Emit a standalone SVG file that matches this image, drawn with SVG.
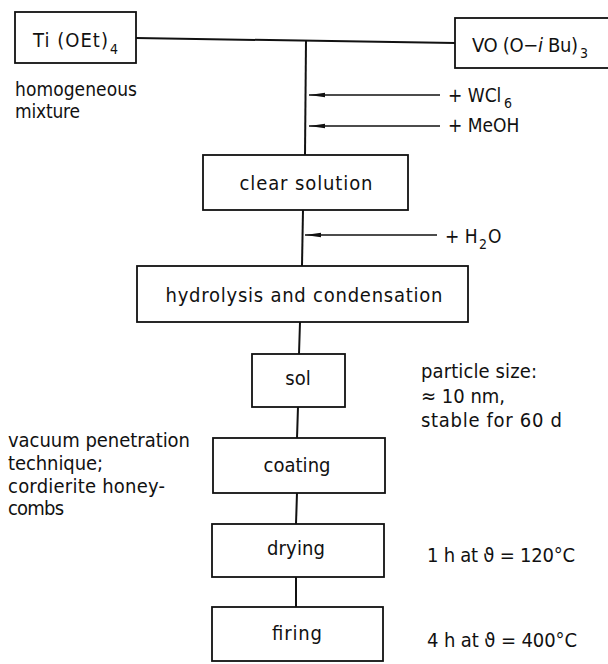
<svg xmlns="http://www.w3.org/2000/svg" width="608" height="664" viewBox="0 0 608 664">
<defs>
<marker id="ah" viewBox="0 0 16 6" refX="16" refY="3" markerWidth="16" markerHeight="6" markerUnits="userSpaceOnUse" orient="auto">
<path d="M16,3 L0,0.8 L0,5.2 Z" fill="#111"/>
</marker>
<style>
.box{fill:none;stroke:#111;stroke-width:1.8}
.ln{fill:none;stroke:#111;stroke-width:2}
.ar{fill:none;stroke:#111;stroke-width:1.4}
text{font-family:"DejaVu Sans Condensed","DejaVu Sans",sans-serif;font-size:20px;fill:#111}
.c{text-anchor:middle}
.sub{font-size:14px}
.s{font-size:19px}
</style>
</defs>
<rect width="608" height="664" fill="#fff"/>
<g id="connectors">
<polyline class="ln" points="136,38 455,43"/>
<line class="ln" x1="306" y1="40" x2="305" y2="155"/>
<line class="ar" x1="440" y1="95" x2="309" y2="95" marker-end="url(#ah)"/>
<line class="ar" x1="440" y1="126" x2="309" y2="126" marker-end="url(#ah)"/>
<line class="ln" x1="303" y1="210" x2="302" y2="266"/>
<line class="ar" x1="437" y1="235" x2="305" y2="235" marker-end="url(#ah)"/>
<line class="ln" x1="300" y1="322" x2="299" y2="354"/>
<line class="ln" x1="298" y1="407" x2="297" y2="438"/>
<line class="ln" x1="297" y1="493" x2="296" y2="524"/>
<line class="ln" x1="296" y1="577" x2="296" y2="607"/>
</g>
<g id="ti">
<rect class="box" x="15" y="12" width="121" height="51"/>
<text x="33" y="47" textLength="75" lengthAdjust="spacing">Ti (OEt)</text>
<text class="sub" x="110" y="54">4</text>
</g>
<g id="vo">
<rect class="box" x="455" y="18" width="170" height="50"/>
<text x="472" y="52" textLength="106" lengthAdjust="spacing">VO (O−<tspan font-style="italic">i</tspan> Bu)</text>
<text class="sub" x="580" y="58">3</text>
</g>
<g id="mixture-note">
<text class="s" x="15" y="96" textLength="122" lengthAdjust="spacing">homogeneous</text>
<text class="s" x="15" y="118" textLength="65" lengthAdjust="spacing">mixture</text>
</g>
<g id="wcl6">
<text class="s" x="448" y="102">+ WCl</text>
<text class="sub" x="504" y="108">6</text>
</g>
<g id="meoh">
<text class="s" x="448" y="132">+ MeOH</text>
</g>
<g id="clear-solution">
<rect class="box" x="203" y="155" width="205" height="55"/>
<text class="c" x="306" y="190" textLength="133" lengthAdjust="spacing">clear solution</text>
</g>
<g id="h2o">
<text class="s" x="445" y="243">+ H</text>
<text class="sub" x="479" y="249">2</text>
<text class="s" x="488" y="243">O</text>
</g>
<g id="hydrolysis">
<rect class="box" x="137" y="266" width="331" height="56"/>
<text class="c" x="304" y="302" textLength="277" lengthAdjust="spacing">hydrolysis and condensation</text>
</g>
<g id="sol">
<rect class="box" x="252" y="354" width="93" height="53"/>
<text class="c" x="298" y="385">sol</text>
</g>
<g id="particle-note">
<text x="421" y="378" textLength="116" lengthAdjust="spacing">particle size:</text>
<text x="421" y="403">≈ 10 nm,</text>
<text x="421" y="427" textLength="141" lengthAdjust="spacing">stable for 60 d</text>
</g>
<g id="coating">
<rect class="box" x="213" y="438" width="172" height="55"/>
<text class="c" x="297" y="472" textLength="67" lengthAdjust="spacing">coating</text>
</g>
<g id="vacuum-note">
<text x="8" y="447" textLength="182" lengthAdjust="spacing">vacuum penetration</text>
<text x="8" y="470" textLength="95" lengthAdjust="spacing">technique;</text>
<text x="8" y="493" textLength="157" lengthAdjust="spacing">cordierite honey-</text>
<text x="8" y="515" textLength="56" lengthAdjust="spacing">combs</text>
</g>
<g id="drying">
<rect class="box" x="212" y="524" width="172" height="53"/>
<text class="c" x="296" y="555" textLength="58" lengthAdjust="spacing">drying</text>
</g>
<g id="drying-note">
<text x="427" y="562" textLength="148" lengthAdjust="spacing">1 h at ϑ = 120°C</text>
</g>
<g id="firing">
<rect class="box" x="212" y="607" width="171" height="54"/>
<text class="c" x="297" y="640" textLength="50" lengthAdjust="spacing">firing</text>
</g>
<g id="firing-note">
<text x="427" y="647" textLength="150" lengthAdjust="spacing">4 h at ϑ = 400°C</text>
</g>
</svg>
